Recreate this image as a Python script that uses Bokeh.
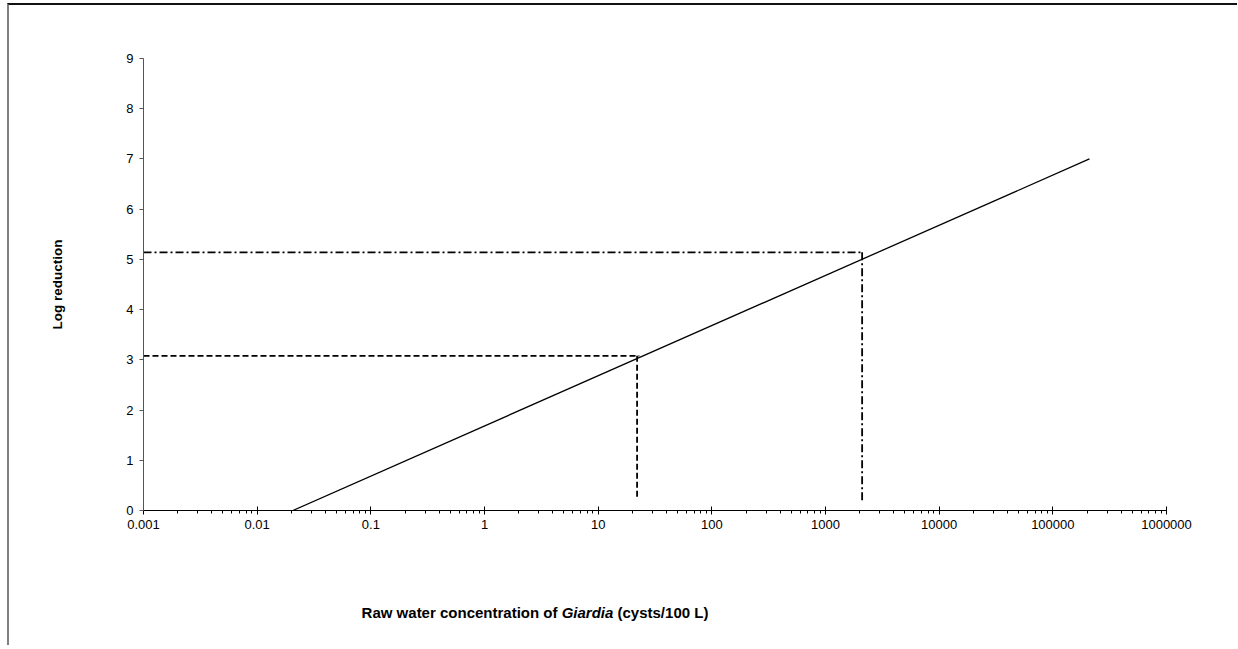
from bokeh.plotting import figure
from bokeh.models import Range1d, LogTicker, FixedTicker, CustomJSTickFormatter, Div
from bokeh.layouts import column
from bokeh.embed import file_html
from bokeh.resources import INLINE

# ---- data ----
line_x = [0.0206, 210000]
line_y = [0, 7]

dash_h_x = [0.001, 23]
dash_h_y = [3.08, 3.08]
dash_v_x = [22, 22]
dash_v_y = [3.08, 0.23]

dd_h_x = [0.001, 2100]
dd_h_y = [5.14, 5.14]
dd_v_x = [2100, 2100]
dd_v_y = [5.14, 0.2]

y_ticks = [0, 1, 2, 3, 4, 5, 6, 7, 8, 9]

x_title_html = ('<b>Raw water concentration of <i>Giardia</i> (cysts/100 L)</b>')
y_title = "Log reduction"

FONT = "Liberation Sans"

p = figure(width=1228, height=550, x_axis_type="log",
           x_range=Range1d(0.001, 1000000), y_range=Range1d(0, 9),
           output_backend="svg", toolbar_location=None,
           min_border_left=134, min_border_right=71,
           min_border_top=53, min_border_bottom=45)
p.outline_line_color = None
p.xgrid.visible = False
p.ygrid.visible = False
p.background_fill_color = "white"
p.border_fill_color = "white"

p.line(line_x, line_y, line_color="black", line_width=1.3)
p.line(dash_h_x, dash_h_y, line_color="black", line_width=1.8, line_dash="6 3")
p.line(dash_v_x, dash_v_y, line_color="black", line_width=1.8, line_dash="6 3")
p.line(dd_h_x, dd_h_y, line_color="black", line_width=1.8, line_dash="8 3 2 3")
p.line(dd_v_x, dd_v_y, line_color="black", line_width=1.8, line_dash="8 3 2 3")

# x axis
xa = p.xaxis[0]
xa.ticker = LogTicker(num_minor_ticks=10)
xa.formatter = CustomJSTickFormatter(code="return String(Number(tick.toPrecision(6)));")
xa.axis_line_color = "black"
xa.axis_line_width = 1
xa.major_tick_in = 4
xa.major_tick_out = 4
xa.minor_tick_in = 0
xa.minor_tick_out = 3
xa.major_tick_line_color = "black"
xa.minor_tick_line_color = "black"
xa.major_label_text_font = FONT
xa.major_label_text_font_size = "13px"
xa.major_label_text_color = "black"
xa.major_label_standoff = 5
xa.axis_label = None

# y axis
ya = p.yaxis[0]
ya.ticker = FixedTicker(ticks=y_ticks)
ya.axis_line_color = "#555555"
ya.axis_line_width = 1
ya.major_tick_in = 0
ya.major_tick_out = 4
ya.minor_tick_line_color = None
ya.major_tick_line_color = "#555555"
ya.major_label_text_font = FONT
ya.major_label_text_font_size = "13px"
ya.major_label_text_color = "black"
ya.major_label_standoff = 6
ya.axis_label = y_title
ya.axis_label_text_font = FONT
ya.axis_label_text_font_size = "13.5px"
ya.axis_label_text_font_style = "bold"
ya.axis_label_text_color = "black"
ya.axis_label_standoff = 58

title = Div(text=x_title_html, width=1042, height=38,
            styles={"margin-top": "47px", "text-align": "center",
                    "font-family": FONT, "font-size": "15px", "color": "black"})

layout = column(p, title, spacing=0,
                styles={"margin-left": "7px", "margin-top": "3px",
                        "border-top": "2px solid #111111",
                        "border-left": "2px solid #808080"})

open("out.html", "w").write(file_html(layout, INLINE))
